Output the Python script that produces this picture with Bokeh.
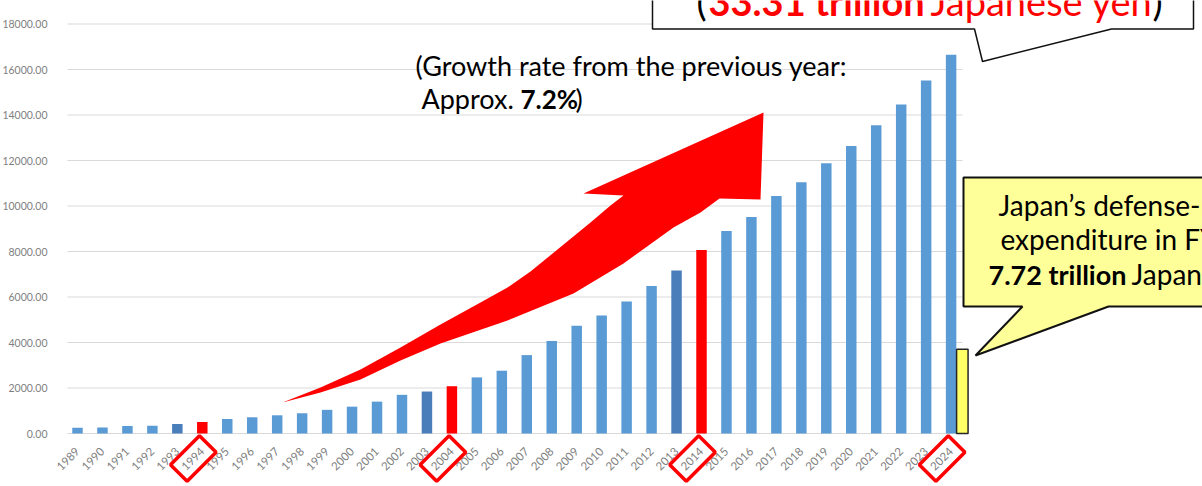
import numpy as np
from bokeh.plotting import figure
from bokeh.models import (ColumnDataSource, FixedTicker, NumeralTickFormatter, Range1d,
                          PolyAnnotation, Label)
from bokeh.transform import dodge
from bokeh.embed import file_html
from bokeh.resources import INLINE

# ---------------- data ----------------
years = list(range(1989, 2025))
year_labels = [str(y) for y in years]
china_budget = [250, 260, 330, 345, 420, 505, 636, 710, 800, 890,
                1040, 1180, 1400, 1700, 1845, 2078, 2466, 2760, 3446, 4061,
                4734, 5190, 5802, 6489, 7164, 8071, 8906, 9520, 10441, 11042,
                11876, 12637, 13544, 14466, 15520, 16647]
japan_years = [2024]
japan_budget = [3700]
y_ticks = list(range(0, 18001, 2000))
red_years = [1994, 2004, 2014]
dark_years = [1993, 2003, 2013]
boxed_years = [1994, 2004, 2014, 2024]

# ---------------- layout helpers (picture pixel -> data) ----------------
W, H = 1202, 486
PX_1989, PX_STEP = 77.0, 24.96
PY_ZERO, PY_PER_UNIT = 433.0, 409.5 / 18000


def X(px):
    return 1989 + (px - PX_1989) / PX_STEP


def Y(py):
    return (PY_ZERO - py) / PY_PER_UNIT


BLUE, DARK, RED = "#5B9BD5", "#4A7EBB", "#FF0000"
colors = [RED if y in red_years else DARK if y in dark_years else BLUE for y in years]

src = ColumnDataSource(dict(x=years, top=china_budget, color=colors))
jsrc = ColumnDataSource(dict(x=japan_years, top=japan_budget))

p = figure(width=W, height=H, x_range=Range1d(X(0), X(W)), y_range=Range1d(Y(H), Y(0)),
           min_border_left=0, min_border_right=0, min_border_top=0, min_border_bottom=0,
           output_backend="svg", toolbar_location=None)
p.outline_line_color = None
p.background_fill_color = "white"
p.border_fill_color = "white"
p.xgrid.visible = False
p.ygrid.visible = False

# horizontal gridlines (limited to the chart area)
x_left, x_right = X(67), X(962)
p.segment(x0=[x_left] * len(y_ticks), x1=[x_right] * len(y_ticks), y0=y_ticks, y1=y_ticks,
          line_color="#D9D9D9", line_width=1)

p.vbar(x="x", top="top", width=0.42, source=src, fill_color="color", line_color=None)
p.vbar(x=dodge("x", 0.45, range=p.x_range), top="top", width=0.46, source=jsrc,
       fill_color="#FFFF66", line_color="#262626", line_width=1.5)

# axes (placed at fixed data locations so the whole canvas is the frame)
for ax in (p.xaxis, p.yaxis):
    ax.axis_line_color = None
    ax.major_tick_line_color = None
    ax.minor_tick_line_color = None
    ax.major_label_text_font = "Lato"
    ax.major_label_text_color = "#7F7F7F"

p.xaxis.fixed_location = 0
p.xaxis.ticker = FixedTicker(ticks=years)
p.xaxis.major_label_overrides = {y: s for y, s in zip(years, year_labels)}
p.xaxis.major_label_orientation = np.pi / 4
p.xaxis.major_label_standoff = 10
p.xaxis.major_label_text_font_size = "11.5px"

p.yaxis.fixed_location = x_left
p.yaxis.ticker = FixedTicker(ticks=y_ticks)
p.yaxis.formatter = NumeralTickFormatter(format="0.00")
p.yaxis.major_label_standoff = 14
p.yaxis.major_label_text_font_size = "10.5px"

# ---------------- big red arrow ----------------
arrow_px = [(282, 402), (320, 387), (360, 369), (400, 347), (440, 324), (480, 302),
            (507, 287), (530, 271), (557, 249), (590, 222), (610, 205), (623, 195),
            (583, 193), (763, 112), (760, 199), (719, 198), (700, 212), (673, 227),
            (623, 263), (573, 293), (507, 320), (440, 343), (400, 360), (360, 379),
            (320, 392)]
p.add_layout(PolyAnnotation(xs=[X(a) for a, b in arrow_px], ys=[Y(b) for a, b in arrow_px],
                            xs_units="data", ys_units="data",
                            fill_color=RED, fill_alpha=1, line_color=None))

# ---------------- red boxes around highlighted year labels ----------------
L_, S_ = 41.0, 23.5
u = np.array([1, -1]) / np.sqrt(2)
v = np.array([1, 1]) / np.sqrt(2)
for yr in boxed_years:
    c = np.array([PX_1989 + (yr - 1989) * PX_STEP - 9, 458.0])
    pts = [c + L_ / 2 * u - S_ / 2 * v, c + L_ / 2 * u + S_ / 2 * v,
           c - L_ / 2 * u + S_ / 2 * v, c - L_ / 2 * u - S_ / 2 * v]
    p.add_layout(PolyAnnotation(xs=[X(q[0]) for q in pts], ys=[Y(q[1]) for q in pts],
                                xs_units="data", ys_units="data",
                                fill_color=None, fill_alpha=0,
                                line_color=RED, line_alpha=1, line_width=3.5))

# ---------------- top callout (China) ----------------
top_px = [(652, -30), (652, 28.5), (974, 28.5), (982, 61), (1111, 28.5), (1193, 28.5), (1193, -30)]
p.add_layout(PolyAnnotation(xs=[X(a) for a, b in top_px], ys=[Y(b) for a, b in top_px],
                            xs_units="data", ys_units="data",
                            fill_color="white", fill_alpha=1,
                            line_color="#111111", line_alpha=1, line_width=1.5))

# ---------------- yellow callout (Japan) ----------------
yel_px = [(963, 177), (963, 306), (1022, 306), (975, 355), (1108, 306), (1230, 306), (1230, 177)]
p.add_layout(PolyAnnotation(xs=[X(a) for a, b in yel_px], ys=[Y(b) for a, b in yel_px],
                            xs_units="data", ys_units="data",
                            fill_color="#FFFF99", fill_alpha=1,
                            line_color="#111111", line_alpha=1, line_width=2))


def txt(px, baseline_py, s, size, color="black", style="normal"):
    # the label is placed about 0.44 em above where its baseline ends up
    py = baseline_py - 0.44 * size
    p.add_layout(Label(x=X(px), y=Y(py), text=s, text_font="Lato", text_font_size=f"{size}px",
                       text_color=color, text_font_style=style, text_baseline="alphabetic",
                       text_align="left"))


# growth-rate text
txt(415, 77, "(Growth rate from the previous year:", 27)
txt(421, 110, "Approx.", 27)
txt(520, 110, "7.2%", 26, style="bold")
txt(575, 110, ")", 27)

# China callout text
txt(696, 17, "(", 38)
txt(708, 17, "33.31 trillion", 38, RED, "bold")
txt(930, 17, "Japanese yen", 38, RED)
txt(1152, 17, ")", 38)

# Japan callout text
txt(998, 217, "Japan\u2019s defense-related", 28)
txt(1000, 251, "expenditure in FY2024:", 28)
txt(988, 286, "7.72 trillion", 27, style="bold")
txt(1131, 286, "Japanese yen", 28)

open("out.html", "w").write(file_html(p, INLINE))
